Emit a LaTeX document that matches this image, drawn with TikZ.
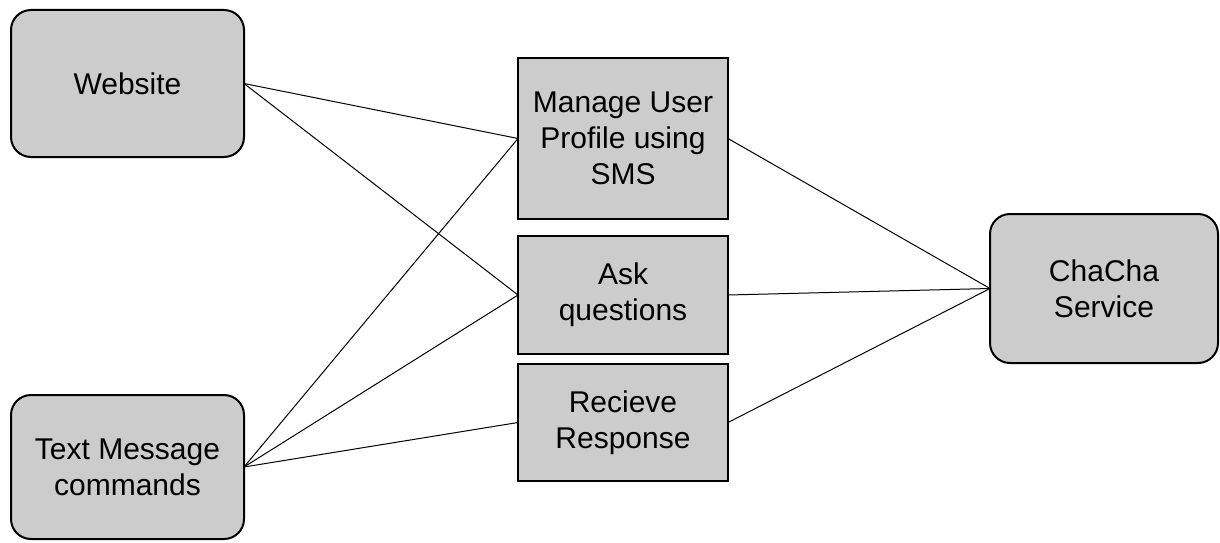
\documentclass[tikz,border=0pt]{standalone}
\usepackage{fontspec}
\setmainfont{Liberation Sans}
\usepackage{tikz}
\usetikzlibrary{positioning}
\definecolor{boxgray}{RGB}{204,204,204}
\tikzset{CC_actor/.style={
		rectangle,
		rounded corners=10pt,
		draw,
		line width=1pt,
		fill=boxgray,
		inner sep = 0pt,
		outer sep = 0pt,
		minimum width=116.5pt,
		minimum height=73.5pt,
		align=center,
		font=\fontsize{15pt}{18pt}\selectfont,
	}
}
\tikzset{CC_task/.style={
		rectangle,
		draw,
		line width=1pt,
		fill=boxgray,
		inner sep = 0pt,
		outer sep = 0pt,
		minimum width=105pt,
		align=center,
		font=\fontsize{15pt}{18pt}\selectfont,
	}
}
\tikzset{link/.style={
		draw,
		line width=0.5pt,
	}
}

\begin{document}
\begin{tikzpicture}[node distance = 8.5pt and 0.75cm]
\useasboundingbox (0,0) rectangle (610pt,271pt);

% actors
\node[CC_actor] (web) at (63.75pt,229.25pt) {Website};
\node[CC_actor, minimum height=72pt] (sms) at (63.75pt,37.5pt) {Text Message\\commands};

% use cases
\node[CC_task, minimum height=80.5pt] (manage) at (311.5pt,201.75pt) {Manage User\\Profile using\\SMS};
\node[CC_task, minimum height=59pt, below = of manage] (ask) {Ask\\questions};
\node[CC_task, minimum height=58.5pt, below = 5pt of ask] (recv) {Recieve\\Response};

% service
\node[CC_actor, minimum width=114pt, minimum height=74.5pt] (chacha) at (552pt,126.75pt) {ChaCha\\Service};

% links
\draw[link] (web.east) -- (manage.west);
\draw[link] (web.east) -- (ask.west);
\draw[link] (sms.east) -- (manage.west);
\draw[link] (sms.east) -- (ask.west);
\draw[link] (sms.east) -- (recv.west);
\draw[link] (manage.east) -- (chacha.west);
\draw[link] (ask.east) -- (chacha.west);
\draw[link] (recv.east) -- (chacha.west);

\end{tikzpicture}
\end{document}
